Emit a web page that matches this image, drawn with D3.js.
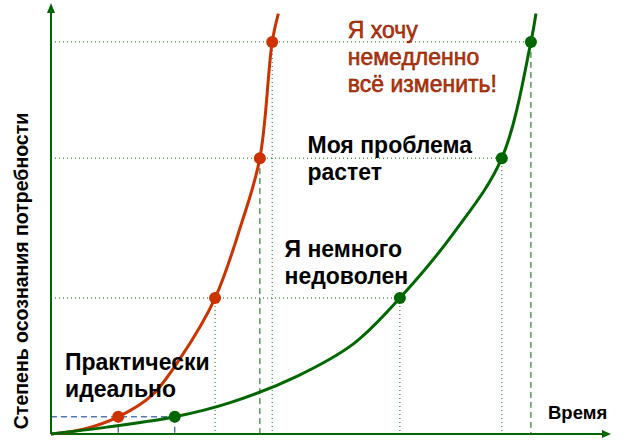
<!DOCTYPE html>
<html><head><meta charset="utf-8">
<script src="https://cdn.jsdelivr.net/npm/d3@7"></script>
<style>body{margin:0;background:#fff}svg{display:block}text{font-family:"Liberation Sans",Arial,sans-serif}</style>
</head><body><svg id="c" width="628" height="441"></svg>
<script>
// Data (time units 0..100, level units 0..100)
const levels = [4, 31.7, 64.3, 91.4];
const redTimes = [12, 29.3, 37.3, 39.5];
const greenTimes = [22.1, 62.3, 80.5, 85.7];
const redCurve = [[0,0],[6,1.2],[12,4],[18,9],[23,17.5],[29.3,31.7],[34,49],[37.3,64.3],[39.5,91.4],[40.6,98]];
const greenCurve = [[0,0],[10,1.6],[22.1,4],[32,7.3],[44,13.5],[54,21],[62.3,31.7],[72,47],[80.5,64.3],[85.7,91.4],[86.6,98]];
const labels = [
  {lines:["Я хочу","немедленно","всё изменить!"], t:53, l:92.3, color:"#cc3300", weight:"normal"},
  {lines:["Моя проблема","растет"], t:45.8, l:65.5, color:"#000", weight:"bold"},
  {lines:["Я немного","недоволен"], t:41.7, l:41.3, color:"#000", weight:"bold"},
  {lines:["Практически","идеально"], t:2.5, l:14.9, color:"#000", weight:"bold"}
];
const yTitle = "Степень осознания потребности";
const xTitle = "Время";

const svg = d3.select("#c");
const x = d3.scaleLinear().domain([0,100]).range([51,611]);
const y = d3.scaleLinear().domain([0,100]).range([434,5]);
const green = "#006600", red = "#cc3300", blue = "#003399";

// guide lines
const g = svg.append("g");
function hline(lv, t, dash, col){
  g.append("line").attr("x1",x(0)).attr("x2",x(t)).attr("y1",y(lv)).attr("y2",y(lv))
   .attr("stroke",col).attr("stroke-width",1).attr("stroke-dasharray",dash);
}
function vline(lv, t, dash, col){
  g.append("line").attr("x1",x(t)).attr("x2",x(t)).attr("y1",y(lv)).attr("y2",y(0))
   .attr("stroke",col).attr("stroke-width",1).attr("stroke-dasharray",dash);
}
const dotted = "1,3", dashed = "6,4";
levels.forEach((lv,i)=>{
  const t = greenTimes[i];
  if(i===0){ hline(lv,t,dashed,blue); }
  else hline(lv,t,dotted,green);
});
vline(levels[0], redTimes[0], dashed, blue);
vline(levels[0], greenTimes[0], dashed, blue);
vline(levels[1], redTimes[1], dotted, green);
vline(levels[2], redTimes[2], dashed, green);
vline(levels[3], redTimes[3], dotted, green);
vline(levels[1], greenTimes[1], dotted, green);
vline(levels[2], greenTimes[2], dotted, green);
vline(levels[3], greenTimes[3], dashed, green);

// axes
svg.append("line").attr("x1",x(0)).attr("x2",x(100)-6).attr("y1",y(0)).attr("y2",y(0)).attr("stroke",green).attr("stroke-width",2);
svg.append("line").attr("x1",x(0)).attr("x2",x(0)).attr("y1",y(0)).attr("y2",y(100)+6).attr("stroke",green).attr("stroke-width",2);
svg.append("path").attr("d",`M${x(100)},${y(0)} L${x(100)-9},${y(0)-4} L${x(100)-9},${y(0)+4}Z`).attr("fill",green);
svg.append("path").attr("d",`M${x(0)},${y(100)-2} L${x(0)-4},${y(100)+8} L${x(0)+4},${y(100)+8}Z`).attr("fill",green);

// curves
const line = d3.line().x(d=>x(d[0])).y(d=>y(d[1])).curve(d3.curveCatmullRom.alpha(0.5));
svg.append("path").datum(redCurve).attr("d",line).attr("fill","none").attr("stroke",red).attr("stroke-width",3);
svg.append("path").datum(greenCurve).attr("d",line).attr("fill","none").attr("stroke",green).attr("stroke-width",3);

// points
svg.selectAll(".rp").data(redTimes).join("circle").attr("cx",d=>x(d)).attr("cy",(d,i)=>y(levels[i])).attr("r",6).attr("fill",red);
svg.selectAll(".gp").data(greenTimes).join("circle").attr("cx",d=>x(d)).attr("cy",(d,i)=>y(levels[i])).attr("r",6).attr("fill",green);

// labels
labels.forEach((lb,k)=>{
  const tx = svg.append("text").attr("x",x(lb.t)).attr("y",y(lb.l))
    .attr("font-size", 23).attr("font-weight",lb.weight).attr("fill",lb.color);
  if(k===0) tx.attr("stroke","#661100").attr("stroke-width",0.5);
  lb.lines.forEach((s,i)=>tx.append("tspan").attr("x",x(lb.t)).attr("dy", i===0?0:27.2).text(s));
});
svg.append("text").attr("x",548).attr("y",y(3.4)).attr("font-size",18.5).attr("font-weight","bold").text(xTitle);
svg.append("text").attr("transform",`translate(28,271) rotate(-90)`).attr("text-anchor","middle")
  .attr("font-size",19.5).attr("font-weight","bold").text(yTitle);
</script></body></html>
